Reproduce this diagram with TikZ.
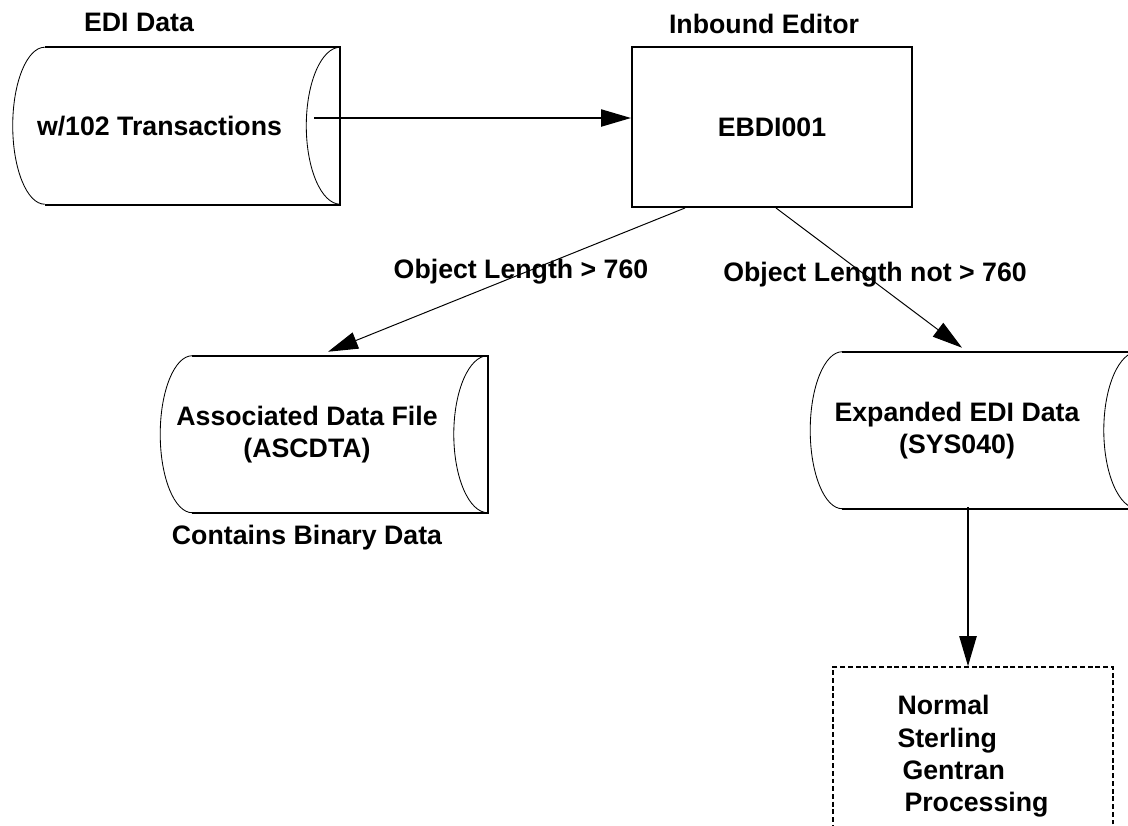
\documentclass[tikz,border=0pt]{standalone}
\usepackage{fontspec}
\setmainfont{Liberation Sans}
\usepackage{tikz}
\usetikzlibrary{arrows.meta, calc, positioning}
\tikzset{
  lbl/.style     = {font=\fontsize{19}{23}\selectfont\bfseries, inner sep=0pt},
  store/.style   = {lbl, rectangle, minimum width=7.325cm, minimum height=3.925cm, align=center},
  rim/.style     = {line width=1.2pt, black},
  curve/.style   = {line width=0.6pt, black},
  editor/.style  = {lbl, draw, line width=1.4pt, minimum width=7cm, minimum height=4cm},
  pending/.style = {lbl, draw, line width=1.1pt, dash pattern=on 3.5pt off 2pt,
                    minimum width=7cm, minimum height=4.475cm, align=left},
  flow/.style    = {-{Triangle[length=7.5mm, width=4.3mm]}, line width=1.1pt},
  link/.style    = {-{Triangle[length=7.5mm, width=4.3mm]}, line width=0.7pt},
}
\newcommand{\storage}[3]{%
  \node[store] (#1) at (#2) {#3};
  \draw[rim] ([xshift=0.8cm]#1.north west) -- ([xshift=0.85cm]#1.north east)
    -- ([xshift=0.85cm]#1.south east) -- ([xshift=0.8cm]#1.south west);
  \draw[curve] ([xshift=0.8cm]#1.north west)
    arc [start angle=90, end angle=270, x radius=0.8cm, y radius=1.9625cm];
  \draw[curve] ([xshift=0.85cm]#1.north east)
    arc [start angle=90, end angle=270, x radius=0.85cm, y radius=1.9625cm];
}

\begin{document}
\begin{tikzpicture}
  \clip (0,0) rectangle (28.2,-20.625);
  % storage drums
  \storage{src}{3.9875,-3.15}{w/102 Transactions}
  \storage{ascdta}{7.675,-10.8625}{Associated Data File\\(ASCDTA)}
  \storage{sys}{23.925,-10.7625}{Expanded EDI Data\\(SYS040)}
  % editor and next step
  \node[editor] (ebdi) at (19.3,-3.175) {EBDI001};
  \node[pending] (proc) at (24.325,-18.9125)
    {Normal\\Sterling\\\hspace{0.125cm}Gentran\\\hspace{0.175cm}Processing};
  % titles
  \node[lbl] (srctitle) at (3.475,-0.55) {EDI Data};
  \node[lbl] (ebdititle) at (19.1,-0.6) {Inbound Editor};
  \node[lbl] (bin) at ([yshift=-0.6cm]ascdta.south) {Contains Binary Data};
  \node[lbl] (big) at (13.025,-6.8) {Object Length > 760};
  \node[lbl] (small) at (21.875,-6.875) {Object Length not > 760};
  % arrows
  \draw[flow] ([shift={(0.2cm,0.2cm)}]src.east) coordinate (a) -- (a -| ebdi.west);
  \draw[link] ([xshift=-2.175cm]ebdi.south) -- ([shift={(0.525cm,0.1cm)}]ascdta.north);
  \draw[link] ([xshift=0.1cm]ebdi.south) -- ([shift={(0.125cm,0.1cm)}]sys.north);
  \draw[flow] ([shift={(0.275cm,0.05cm)}]sys.south) coordinate (b) -- (b |- proc.north);
\end{tikzpicture}
\end{document}
